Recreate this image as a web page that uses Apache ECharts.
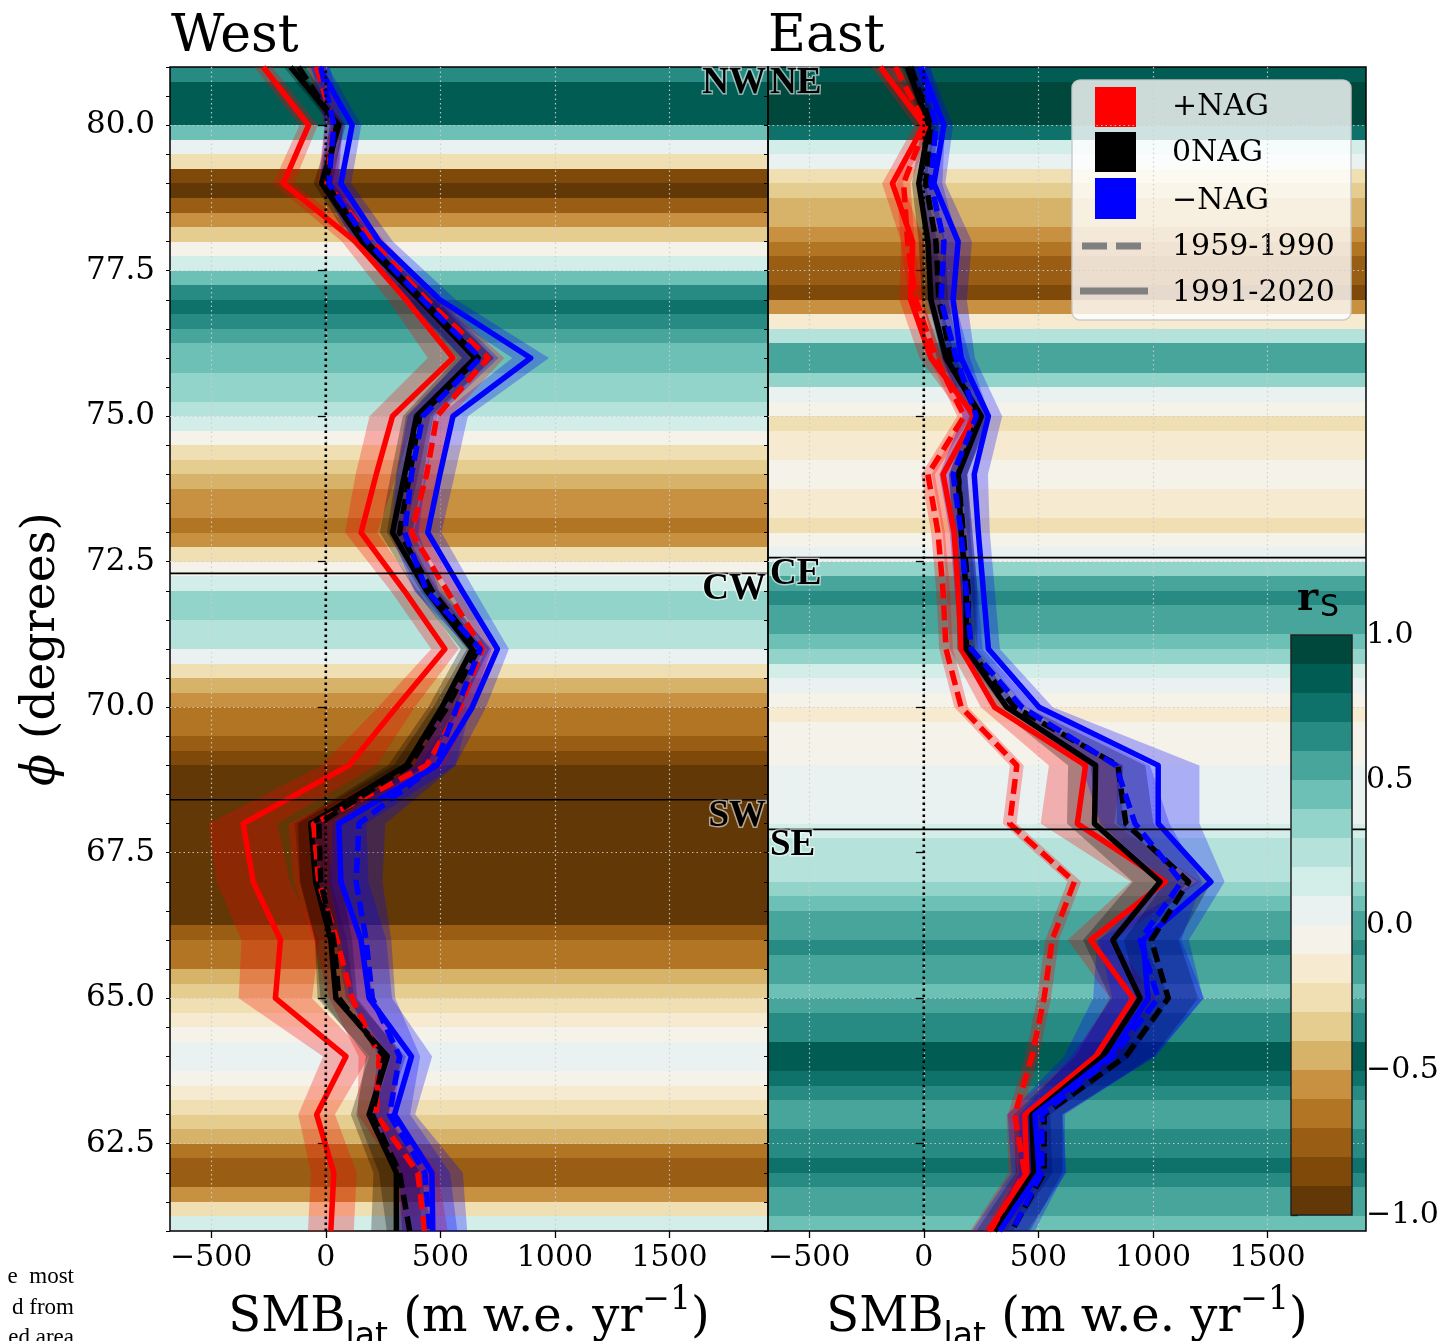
<!DOCTYPE html>
<html><head><meta charset="utf-8">
<script src="https://cdn.jsdelivr.net/npm/echarts@6/dist/echarts.min.js"></script>
<style>html,body{margin:0;padding:0;background:#fff}#c{width:1444px;height:1341px}</style>
</head><body><div id="c"></div>
<script>
// ---------------- DATA ----------------
const lats = [81,80,79,78,77,76,75,74,73,72,71,70,69,68,67,66,65,64,63,62,61];
const xTicks = [-500,0,500,1000,1500];
const yTicks = [62.5,65,67.5,70,72.5,75,77.5,80];
const yMinor = [61,61.5,62,62.5,63,63.5,64,64.5,65,65.5,66,66.5,67,67.5,68,68.5,69,69.5,70,70.5,71,71.5,72,72.5,73,73.5,74,74.5,75,75.5,76,76.5,77,77.5,78,78.5,79,79.5,80,80.5,81];
const cbTicks = [-1,-0.5,0,0.5,1];
const cbLevels = [-1,-0.9,-0.8,-0.7,-0.6,-0.5,-0.4,-0.3,-0.2,-0.1,0,0.1,0.2,0.3,0.4,0.5,0.6,0.7,0.8,0.9];

// West (SMB_lat, m w.e. yr^-1) at lats
const wRedSolid   = [-273,-75,-185,130,350,555,291,220,154,343,520,308,101,-361,-317,-198,-220,88,-40,35,22];
const wBlackSolid = [-154,57,-18,159,410,652,396,344,291,440,639,507,352,-66,-44,22,44,269,189,308,308];
const wBlueSolid  = [-30,115,66,233,498,894,555,498,445,595,749,639,485,57,66,154,189,374,300,463,467];
const wRedDash    = [-40,35,5,203,440,709,485,440,374,529,683,586,440,-53,-31,48,115,233,220,401,432];
const wBlackDash  = [-119,48,0,176,423,665,410,366,322,463,665,529,366,-31,-22,35,57,255,203,322,366];
const wBlueDash   = [-22,35,13,181,423,674,423,374,344,440,674,573,476,145,132,176,203,322,278,432,454];
// West spread (half width of shaded band)
const wRedSolidS   = [40,40,45,60,80,110,100,90,70,60,60,80,120,150,160,170,160,100,80,100,100];
const wBlackSolidS = [30,30,35,50,60,80,60,60,55,50,50,60,80,70,70,70,80,80,80,100,110];
const wBlueSolidS  = [40,40,45,60,70,80,65,65,60,55,50,60,80,120,120,110,100,90,90,135,150];
const wRedDashS    = [40,40,40,55,60,70,60,60,55,50,50,60,80,110,110,100,100,90,80,90,100];
const wBlackDashS  = [30,30,30,50,60,70,60,60,55,50,50,60,70,90,90,80,80,80,70,90,100];
const wBlueDashS   = [40,40,40,60,70,80,65,65,60,55,50,60,90,115,115,110,100,90,90,110,120];

// East
const eRedSolid   = [-190,0,-137,-49,-57,31,220,84,132,150,163,309,706,670,1054,728,913,750,441,450,282];
const eBlackSolid = [-71,22,-22,18,31,97,251,150,163,185,185,362,750,745,1032,825,944,781,472,481,309];
const eBlueSolid  = [-13,88,44,150,128,163,282,220,238,260,282,503,1023,1023,1253,957,979,812,485,503,331];
const eRedDash    = [-124,9,-88,-71,-35,53,176,18,62,84,97,163,406,375,657,560,525,472,397,440,290];
const eBlackDash  = [-57,31,9,53,66,119,238,150,172,194,194,397,847,882,1156,993,1067,882,525,525,384];
const eBlueDash   = [-13,53,31,88,75,141,229,128,163,185,207,428,838,922,1125,944,1023,825,516,516,384];
const eRedSolidS   = [40,40,45,50,50,50,50,50,50,50,50,60,160,160,150,100,100,100,80,80,80];
const eBlackSolidS = [30,30,30,40,40,40,40,40,40,40,40,50,120,120,120,130,130,120,80,80,80];
const eBlueSolidS  = [40,40,50,60,60,60,60,60,50,50,50,60,180,180,60,200,240,200,120,120,120];
const eRedDashS    = [30,30,30,30,30,30,30,30,30,30,30,30,30,30,30,30,30,30,30,30,30];
const eBlackDashS  = [30,30,30,40,40,40,40,40,40,40,40,50,120,120,100,120,130,120,80,80,80];
const eBlueDashS   = [40,40,50,60,60,60,60,60,50,50,50,60,150,150,90,180,200,180,100,100,100];

// Background correlation r_S in 0.25 deg latitude bands, from 81 N downward
const westR = [
 0.65,0.8,0.85,0.85,0.45,0.05,-0.3,-0.85,-0.95,-0.75,
 -0.55,-0.35,-0.1,0.15,0.4,0.65,0.75,0.65,0.55,0.45,
 0.4,0.35,0.3,0.25,0.15,-0.05,-0.3,-0.4,-0.5,-0.6,
 -0.6,-0.7,-0.55,-0.25,-0.05,0.15,0.3,0.3,0.2,0.2,
 0.05,-0.25,-0.45,-0.6,-0.7,-0.7,-0.8,-0.85,-0.95,-0.95,
 -0.95,-0.95,-0.95,-0.95,-0.95,-0.95,-0.95,-0.95,-0.95,-0.8,
 -0.7,-0.65,-0.5,-0.4,-0.25,-0.2,-0.05,0.05,0.05,-0.05,
 -0.2,-0.25,-0.35,-0.5,-0.65,-0.8,-0.75,-0.55,-0.3,0.1];
const eastR = [
 0.85,0.92,0.95,0.95,0.7,0.15,0.05,-0.3,-0.35,-0.45,
 -0.5,-0.6,-0.65,-0.8,-0.8,-0.9,-0.6,-0.2,0.2,0.55,
 0.5,0.3,0.05,-0.1,-0.25,-0.15,-0.15,-0.1,-0.1,-0.15,
 -0.2,-0.25,-0.1,0.05,0.3,0.5,0.65,0.55,0.5,0.4,
 0.3,0.15,0.05,-0.1,-0.2,-0.1,-0.05,-0.05,0.05,0.05,
 0.05,0.05,0.1,0.2,0.25,0.25,0.35,0.4,0.5,0.55,
 0.6,0.55,0.5,0.45,0.55,0.6,0.65,0.8,0.85,0.75,
 0.65,0.55,0.55,0.6,0.65,0.7,0.65,0.55,0.5,0.45];

// Region boundaries and labels
const westBounds = [72.3, 68.41];
const eastBounds = [72.57, 67.9];
const westRegionTops = [81, 72.3, 68.41];
const eastRegionTops = [81, 72.57, 67.9];
const westRegionNames = ['NW','CW','SW'];
const eastRegionNames = ['NE','CE','SE'];

// ---------------- HELPERS ----------------
const XMIN=-680, XMAX=1930, YMIN=61, YMAX=81, BG_TOP=81, BG_STEP=0.25;
const BRBG=['#543005','#8c510a','#bf812d','#dfc27d','#f6e8c3','#f5f5f5','#c7eae5','#80cdc1','#35978f','#01665e','#003c30'];
function h2r(h){return [parseInt(h.slice(1,3),16),parseInt(h.slice(3,5),16),parseInt(h.slice(5,7),16)];}
function brbg(t){const p=Math.max(0,Math.min(1,t))*10;const i=Math.min(9,Math.floor(p));const f=p-i;const a=h2r(BRBG[i]),b=h2r(BRBG[i+1]);return 'rgb('+a.map((v,j)=>Math.round(v+(b[j]-v)*f)).join(',')+')';}
function levelColor(r){let i=Math.floor((r+1)*10+1e-6);i=Math.max(0,Math.min(19,i));return brbg((i+0.5)/20);}
const minus = s => String(s).replace('-','\u2212');
const SERIF='DejaVu Serif';
const gridLine={show:true,lineStyle:{color:'rgba(205,205,205,0.9)',width:1.2,type:[1.5,3]}};

function bgSeries(gi,rArr){
  return {type:'custom',xAxisIndex:gi,yAxisIndex:gi*2,z:-5,silent:true,clip:true,animation:false,
    data:rArr.map((r,k)=>[0,BG_TOP-k*BG_STEP,r]),encode:{x:0,y:1},
    renderItem(params,api){
      const top=api.value(1),r=api.value(2);
      const p1=api.coord([XMIN,top]),p2=api.coord([XMAX,top-BG_STEP]);
      const y1=Math.round(p1[1]),y2=Math.round(p2[1]);
      return {type:'rect',shape:{x:p1[0],y:y1,width:p2[0]-p1[0],height:y2-y1},style:{fill:levelColor(r)}};
    }};
}
function bandSeries(gi,center,spread,fill){
  const lo=center.map((v,i)=>v-spread[i]),hi=center.map((v,i)=>v+spread[i]);
  return {type:'custom',xAxisIndex:gi,yAxisIndex:gi*2,z:1,silent:true,clip:true,animation:false,
    data:lats.map((lat,i)=>[lo[i],hi[i],lat]),encode:{x:[0,1],y:2},
    renderItem(params,api){
      if(params.dataIndex!==0) return null;
      const pts=[];
      for(let i=0;i<lats.length;i++) pts.push(api.coord([lo[i],lats[i]]));
      for(let i=lats.length-1;i>=0;i--) pts.push(api.coord([hi[i],lats[i]]));
      return {type:'polygon',shape:{points:pts},style:{fill:fill}};
    }};
}
function lineSeries(gi,vals,color,dashed){
  return {type:'line',xAxisIndex:gi,yAxisIndex:gi*2,z:3,silent:true,clip:true,animation:false,
    symbol:'none',showSymbol:false,data:lats.map((lat,i)=>[vals[i],lat]),
    lineStyle:{color:color,width:5.5,type:dashed?[15,7]:'solid',join:'round',cap:'butt'}};
}
function rulesSeries(gi,bounds){
  const items=bounds.map(b=>[XMIN,b,XMAX,b,0]).concat([[0,YMIN,0,YMAX,1]]);
  return {type:'custom',xAxisIndex:gi,yAxisIndex:gi*2,z:5,silent:true,clip:true,animation:false,
    data:items,encode:{x:[0,2],y:[1,3]},
    renderItem(params,api){
      const a=api.coord([api.value(0),api.value(1)]),b=api.coord([api.value(2),api.value(3)]);
      const dotted=api.value(4)===1;
      return {type:'line',shape:{x1:a[0],y1:a[1],x2:b[0],y2:b[1]},
        style:dotted?{stroke:'#000',lineWidth:2.6,lineDash:[2.6,3.4]}:{stroke:'#000',lineWidth:1.6}};
    }};
}
function labelSeries(gi,tops,names,side){
  return {type:'custom',xAxisIndex:gi,yAxisIndex:gi*2,z:6,silent:true,clip:false,animation:false,
    data:tops.map((t,i)=>[side==='right'?XMAX:XMIN,t,i]),encode:{x:0,y:1},
    renderItem(params,api){
      const p=api.coord([api.value(0),api.value(1)]);
      return {type:'text',x:p[0]+(side==='right'?-2:2),y:p[1]-2,
        style:{text:names[api.value(2)],fontFamily:'Liberation Serif',fontWeight:'bold',fontSize:37,fill:'#000',
          stroke:'rgba(255,255,255,0.55)',lineWidth:3,strokeFirst:true,align:side,verticalAlign:'top'}};
    }};
}
function panelX(gi){
  return {type:'value',gridIndex:gi,min:XMIN,max:XMAX,axisLine:{show:false},
    axisTick:{show:true,customValues:xTicks,length:7,lineStyle:{color:'#000',width:1.3}},
    axisLabel:{show:true,customValues:xTicks,formatter:v=>minus(v),fontFamily:SERIF,fontSize:30,color:'#000',margin:12},
    splitLine:gridLine};
}
function panelY(gi,showLabels){
  return {type:'value',gridIndex:gi,min:YMIN,max:YMAX,position:'left',axisLine:{show:false},
    axisTick:{show:true,customValues:yTicks,length:8,lineStyle:{color:'#000',width:1.3}},
    axisLabel:{show:showLabels,customValues:yTicks,formatter:v=>v.toFixed(1),fontFamily:SERIF,fontSize:31,color:'#000',margin:15},
    splitLine:gridLine};
}
function panelYMinor(gi){
  return {type:'value',gridIndex:gi,min:YMIN,max:YMAX,position:'left',offset:0,axisLine:{show:false},
    axisTick:{show:true,customValues:yMinor,length:4,lineStyle:{color:'#000',width:1}},
    axisLabel:{show:false},splitLine:{show:false}};
}
function panelSeries(gi,d){
  return [
    bgSeries(gi,d.r),
    bandSeries(gi,d.rs,d.rsS,'rgba(255,0,0,0.28)'),
    bandSeries(gi,d.ks,d.ksS,'rgba(0,0,0,0.28)'),
    bandSeries(gi,d.bs,d.bsS,'rgba(0,0,255,0.28)'),
    bandSeries(gi,d.rd,d.rdS,'rgba(255,0,0,0.28)'),
    bandSeries(gi,d.kd,d.kdS,'rgba(0,0,0,0.28)'),
    bandSeries(gi,d.bd,d.bdS,'rgba(0,0,255,0.28)'),
    lineSeries(gi,d.rs,'#ff0000',false),
    lineSeries(gi,d.ks,'#000000',false),
    lineSeries(gi,d.bs,'#0000ff',false),
    lineSeries(gi,d.rd,'#ff0000',true),
    lineSeries(gi,d.kd,'#000000',true),
    lineSeries(gi,d.bd,'#0000ff',true),
    rulesSeries(gi,d.bounds),
    labelSeries(gi,d.tops,d.names,d.side)
  ];
}

const westD={r:westR,rs:wRedSolid,rsS:wRedSolidS,ks:wBlackSolid,ksS:wBlackSolidS,bs:wBlueSolid,bsS:wBlueSolidS,
  rd:wRedDash,rdS:wRedDashS,kd:wBlackDash,kdS:wBlackDashS,bd:wBlueDash,bdS:wBlueDashS,
  bounds:westBounds,tops:westRegionTops,names:westRegionNames,side:'right'};
const eastD={r:eastR,rs:eRedSolid,rsS:eRedSolidS,ks:eBlackSolid,ksS:eBlackSolidS,bs:eBlueSolid,bsS:eBlueSolidS,
  rd:eRedDash,rdS:eRedDashS,kd:eBlackDash,kdS:eBlackDashS,bd:eBlueDash,bdS:eBlueDashS,
  bounds:eastBounds,tops:eastRegionTops,names:eastRegionNames,side:'left'};

const cbSeries={type:'custom',xAxisIndex:2,yAxisIndex:4,z:10,silent:true,animation:false,
  data:cbLevels.map(l=>[0.5,l]),encode:{x:0,y:1},
  renderItem(params,api){
    const l=api.value(1);
    const p1=api.coord([0,l+0.1]),p2=api.coord([1,l]);
    const y1=Math.round(p1[1]),y2=Math.round(p2[1]);
    return {type:'rect',shape:{x:p1[0],y:y1,width:p2[0]-p1[0],height:y2-y1},style:{fill:levelColor(l+0.05)}};
  }};

const xName = '{n|SMB}{s|lat}{n| (m w.e. yr}{p|\u22121}{n|)}';
const xNameRich = {
  n:{fontFamily:SERIF,fontSize:48,lineHeight:70,verticalAlign:'middle',fill:'#000'},
  s:{fontFamily:'DejaVu Sans',fontSize:33,lineHeight:62,verticalAlign:'bottom',fill:'#000'},
  p:{fontFamily:SERIF,fontSize:33,lineHeight:40,verticalAlign:'top',fill:'#000'}
};
const legendItems = ['+NAG','0NAG','\u2212NAG','1959-1990','1991-2020'];

const option = {
  animation:false,
  grid:[
    {left:170,top:67,width:598,height:1164,show:true,borderColor:'#000',borderWidth:1.5,backgroundColor:'transparent'},
    {left:768,top:67,width:598,height:1164,show:true,borderColor:'#000',borderWidth:1.5,backgroundColor:'transparent'},
    {left:1291,top:635,width:61,height:580,show:true,borderColor:'#222',borderWidth:1.5,backgroundColor:'transparent',z:20}
  ],
  xAxis:[panelX(0),panelX(1),{type:'value',gridIndex:2,min:0,max:1,show:false}],
  yAxis:[panelY(0,true),panelYMinor(0),panelY(1,false),panelYMinor(1),
    {type:'value',gridIndex:2,min:-1,max:1,interval:0.5,position:'right',axisLine:{show:false},
     axisTick:{show:true,length:7,lineStyle:{color:'#000',width:1.3}},
     axisLabel:{formatter:v=>minus(v.toFixed(1)),fontFamily:SERIF,fontSize:30,color:'#000',margin:14},
     splitLine:{show:false}}],
  series:[].concat(panelSeries(0,westD),panelSeries(1,eastD),[cbSeries]),
  graphic:[
    {type:'text',x:171,y:37,z:50,style:{text:'West',fontFamily:SERIF,fontSize:52,fill:'#000',align:'left',verticalAlign:'middle'}},
    {type:'text',x:768,y:37,z:50,style:{text:'East',fontFamily:SERIF,fontSize:52,fill:'#000',align:'left',verticalAlign:'middle'}},
    {type:'text',x:42,y:649,rotation:Math.PI/2,z:50,style:{text:'{i|\u03D5}{n| (degrees)}',align:'center',verticalAlign:'middle',
      rich:{i:{fontFamily:SERIF,fontStyle:'italic',fontSize:47,fill:'#000'},n:{fontFamily:SERIF,fontSize:47,fill:'#000'}}}},
    {type:'text',x:469,y:1319,z:50,style:{text:xName,align:'center',verticalAlign:'middle',rich:xNameRich}},
    {type:'text',x:1067,y:1319,z:50,style:{text:xName,align:'center',verticalAlign:'middle',rich:xNameRich}},
    {type:'text',x:1297,y:600,z:50,style:{text:'r',fontFamily:SERIF,fontWeight:'bold',fontSize:40,fill:'#000',align:'left',verticalAlign:'middle'}},
    {type:'text',x:1320,y:608,z:50,style:{text:'S',fontFamily:'DejaVu Sans',fontSize:30,fill:'#000',align:'left',verticalAlign:'middle'}},
    {type:'group',x:1072,y:80,z:50,children:[
      {type:'rect',shape:{x:0,y:0,width:279,height:240,r:8},style:{fill:'rgba(255,255,255,0.8)',stroke:'rgba(200,200,200,0.9)',lineWidth:1.5}},
      {type:'rect',shape:{x:23,y:7,width:41,height:40},style:{fill:'#ff0000'}},
      {type:'rect',shape:{x:23,y:52,width:41,height:40},style:{fill:'#000000'}},
      {type:'rect',shape:{x:23,y:98,width:41,height:41},style:{fill:'#0000ff'}},
      {type:'line',shape:{x1:10,y1:166,x2:72,y2:166},style:{stroke:'#808080',lineWidth:7,lineDash:[25,9]}},
      {type:'line',shape:{x1:8,y1:211,x2:76,y2:211},style:{stroke:'#808080',lineWidth:7}},
      {type:'text',x:100,y:27,style:{text:legendItems[0],fontFamily:SERIF,fontSize:30,fill:'#000',align:'left',verticalAlign:'middle'}},
      {type:'text',x:100,y:73,style:{text:legendItems[1],fontFamily:SERIF,fontSize:30,fill:'#000',align:'left',verticalAlign:'middle'}},
      {type:'text',x:100,y:121,style:{text:legendItems[2],fontFamily:SERIF,fontSize:30,fill:'#000',align:'left',verticalAlign:'middle'}},
      {type:'text',x:100,y:167,style:{text:legendItems[3],fontFamily:SERIF,fontSize:30,fill:'#000',align:'left',verticalAlign:'middle'}},
      {type:'text',x:100,y:213,style:{text:legendItems[4],fontFamily:SERIF,fontSize:30,fill:'#000',align:'left',verticalAlign:'middle'}}
    ]},
    {type:'text',x:74,y:1277,style:{text:'e  most',fontFamily:'Liberation Serif',fontSize:23,fill:'#000',align:'right',verticalAlign:'middle'}},
    {type:'text',x:74,y:1308,style:{text:'d from',fontFamily:'Liberation Serif',fontSize:23,fill:'#000',align:'right',verticalAlign:'middle'}},
    {type:'text',x:74,y:1338,style:{text:'ed area',fontFamily:'Liberation Serif',fontSize:23,fill:'#000',align:'right',verticalAlign:'middle'}}
  ]
};
const chart = echarts.init(document.getElementById('c'),null,{renderer:'canvas'});
chart.setOption(option);
</script></body></html>
